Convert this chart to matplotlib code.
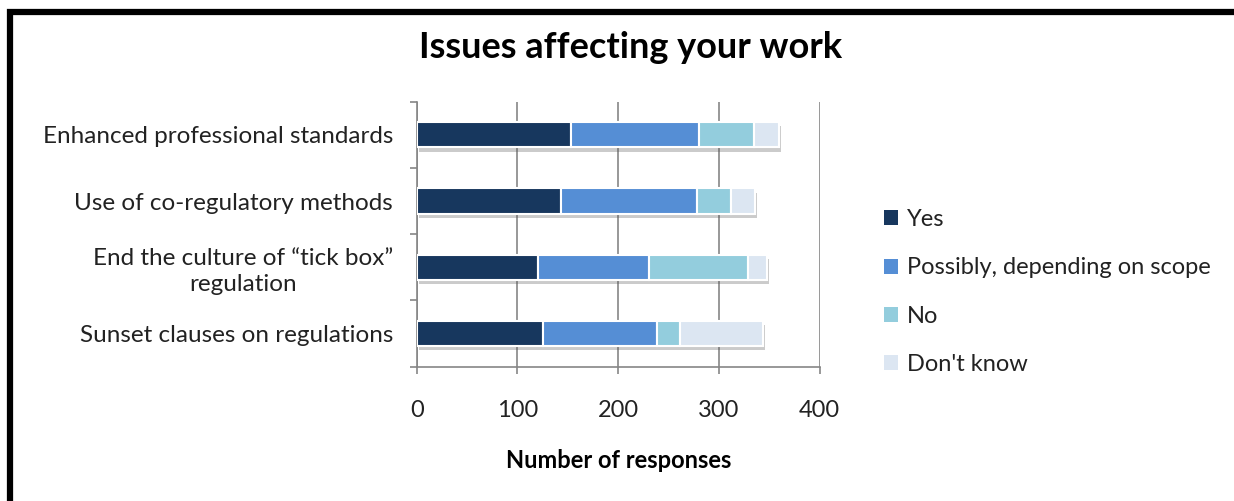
import matplotlib.pyplot as plt
import matplotlib.patheffects as pe
from matplotlib.patches import Rectangle, Patch
import numpy as np

# Data
categories = [
    "Enhanced professional standards",
    "Use of co-regulatory methods",
    "End the culture of \u201ctick box\u201d\nregulation",
    "Sunset clauses on regulations",
]
responses = ["Yes", "Possibly, depending on scope", "No", "Don't know"]
yes = [153, 143, 120, 125]
possibly = [127, 135, 111, 114]
no = [55, 34, 98, 22]
dont_know = [25, 24, 19, 83]
colors = ["#17375E", "#558ED5", "#93CDDD", "#DCE6F2"]
x_ticks = [0, 100, 200, 300, 400]

plt.rcParams['font.family'] = ['Lato', 'DejaVu Sans']

W, H = 1234, 501
fig = plt.figure(figsize=(W / 100, H / 100), dpi=100)
ax = fig.add_axes([416.7 / W, 1 - 366.7 / H, 403 / W, 265 / H])

y = np.arange(len(categories))
left = np.zeros(len(categories))
shadow = [pe.SimplePatchShadow(offset=(1.5, -3), shadow_rgbFace='#555555', alpha=0.3), pe.Normal()]
for vals, label, c in zip([yes, possibly, no, dont_know], responses, colors):
    bars = ax.barh(y, vals, left=left, height=0.38, color=c, edgecolor='white',
                   linewidth=1.5, label=label, zorder=3)
    for b in bars:
        b.set_path_effects(shadow)
    left += np.array(vals)

ax.set_xlim(0, 400)
ax.set_ylim(len(categories) - 0.5, -0.5)
ax.set_xticks(x_ticks)
ax.set_yticks(y)
ax.set_yticklabels(categories, multialignment='center', linespacing=1.25)
ax.set_yticks(np.arange(-0.5, len(categories)), minor=True)

grey = '#868686'
ax.grid(axis='x', color=grey, linewidth=1.2, zorder=0)
ax.set_axisbelow(True)
for s in ['top', 'right']:
    ax.spines[s].set_visible(False)
for s in ['left', 'bottom']:
    ax.spines[s].set_color(grey)
    ax.spines[s].set_linewidth(1.2)

ax.tick_params(axis='y', which='major', length=0, pad=17, labelsize=17.5, labelcolor='#222222')
ax.tick_params(axis='y', which='minor', length=5, color=grey, width=1.2, direction='out')
ax.tick_params(axis='x', length=5, color=grey, width=1.2, direction='out', pad=19,
               labelsize=17, labelcolor='#222222')

ax.set_xlabel("Number of responses", fontsize=17, fontweight='bold', labelpad=20)
fig.text(631 / W, 1 - 48 / H, "Issues affecting your work", ha='center', va='center',
         fontsize=26, fontweight='bold')

handles = [Patch(facecolor=c, edgecolor='none') for c in colors]
fig.legend(handles, responses, loc='upper left', bbox_to_anchor=(863 / W, 1 - 188 / H),
           frameon=False, fontsize=17, handlelength=0.6, handleheight=0.6,
           handletextpad=0.35, labelspacing=1.15, labelcolor='#222222')

# heavy frame around the chart area
fig.patches.append(Rectangle((10 / W, -0.2), 1.2, 1.2 - 12 / H, transform=fig.transFigure,
                             fill=False, edgecolor='black', linewidth=4.5, figure=fig))

fig.savefig('out.png', dpi=100)
